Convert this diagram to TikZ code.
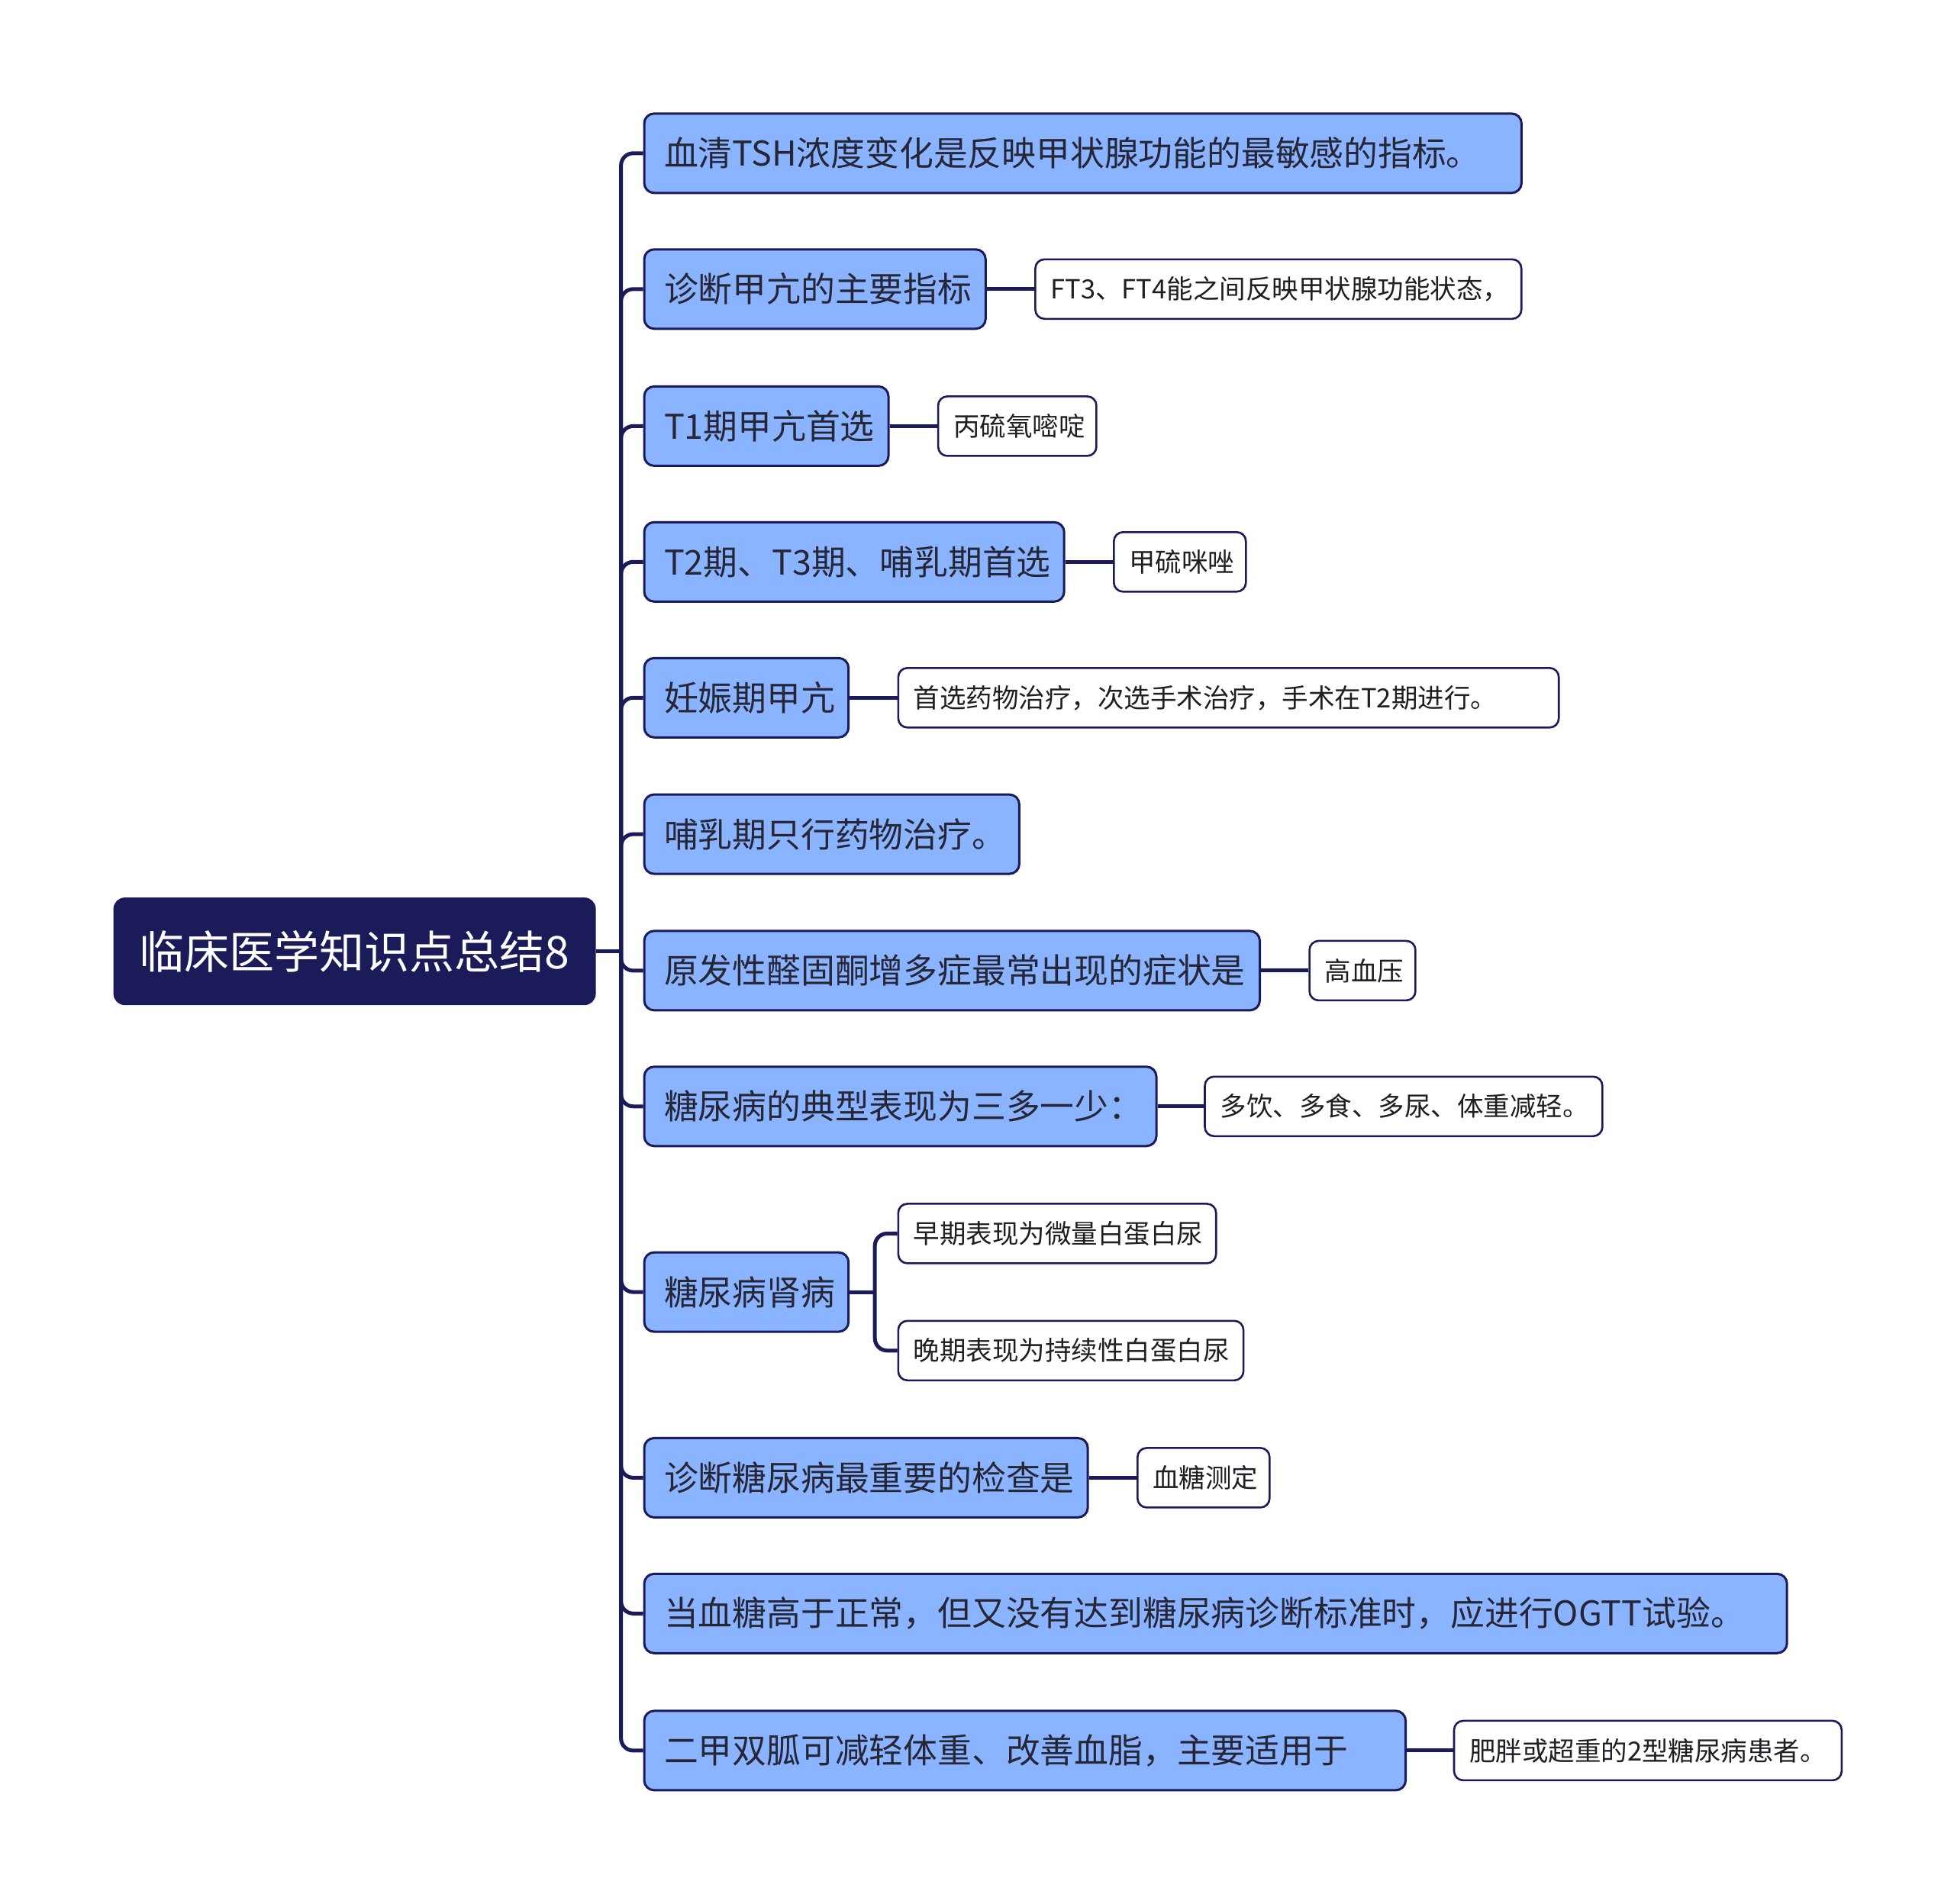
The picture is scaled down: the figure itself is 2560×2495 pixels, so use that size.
\documentclass[tikz,border=0pt]{standalone}
\usepackage{fontspec}
\setmainfont{Noto Sans CJK SC}
\definecolor{navy}{HTML}{1C1B5A}
\definecolor{lblue}{HTML}{8AB4FF}
\definecolor{txtone}{HTML}{262636}
\definecolor{txttwo}{HTML}{1E1E24}
\newcommand\lbx[2]{\makebox[#1pt][l]{#2}}
\begin{document}
\begin{tikzpicture}[x=1pt,y=-1pt,
  rootbox/.style={rounded corners=14, fill=navy, draw=navy, line width=2, text=white,
    font=\fontsize{59}{70}\selectfont, minimum height=139, inner sep=0, anchor=west},
  lonebox/.style={rounded corners=13, fill=lblue, draw=navy, line width=3, text=txtone,
    font=\fontsize{44.8}{53}\selectfont, minimum height=104, inner ysep=0, inner xsep=26, anchor=west},
  ltwobox/.style={rounded corners=12, fill=white, draw=navy, line width=2.6, text=txttwo,
    font=\fontsize{34.5}{41}\selectfont, minimum height=78, inner ysep=0, inner xsep=20, anchor=west},
  link/.style={draw=navy, line width=5, rounded corners=16}]
\useasboundingbox[fill=white] (0,0) rectangle (2560,2495);

\node[rootbox, minimum width=630] (root) at (148.6,1246.6) {临床医学知识点总结8};

\node[lonebox] (n1) at (842.5,200.8) {\lbx{1097.4}{血清TSH浓度变化是反映甲状腺功能的最敏感的指标。}};
\node[lonebox] (n2) at (842.5,378.8) {\lbx{395.3}{诊断甲亢的主要指标}};
\node[lonebox] (n3) at (842.5,558.4) {\lbx{268}{T1期甲亢首选}};
\node[lonebox] (n4) at (842.5,736.3) {\lbx{498.2}{T2期、T3期、哺乳期首选}};
\node[lonebox] (n5) at (842.5,914.3) {\lbx{215.7}{妊娠期甲亢}};
\node[lonebox] (n6) at (842.5,1093.1) {\lbx{439.4}{哺乳期只行药物治疗。}};
\node[lonebox] (n7) at (842.5,1271.9) {\lbx{754.5}{原发性醛固酮增多症最常出现的症状是}};
\node[lonebox] (n8) at (842.5,1449.8) {\lbx{619}{糖尿病的典型表现为三多一少：}};
\node[lonebox] (n9) at (842.5,1693.1) {\lbx{215.7}{糖尿病肾病}};
\node[lonebox] (n10) at (842.5,1936.4) {\lbx{529.2}{诊断糖尿病最重要的检查是}};
\node[lonebox] (n11) at (842.5,2114.3) {\lbx{1445.2}{当血糖高于正常，但又没有达到糖尿病诊断标准时，应进行OGTT试验。}};
\node[lonebox] (n12) at (842.5,2293.9) {\lbx{945.6}{二甲双胍可减轻体重、改善血脂，主要适用于}};

\node[ltwobox] (c2) at (1355.1,378.8) {\lbx{596.8}{FT3、FT4能之间反映甲状腺功能状态，}};
\node[ltwobox] (c3) at (1227.8,558.4) {\lbx{167.3}{丙硫氧嘧啶}};
\node[ltwobox] (c4) at (1458,736.3) {\lbx{133}{甲硫咪唑}};
\node[ltwobox] (c5) at (1175.5,914.3) {\lbx{825.4}{首选药物治疗，次选手术治疗，手术在T2期进行。}};
\node[ltwobox] (c7) at (1714.3,1271.9) {\lbx{98.8}{高血压}};
\node[ltwobox] (c8) at (1577.2,1449.8) {\lbx{480.8}{多饮、多食、多尿、体重减轻。}};
\node[ltwobox] (c9a) at (1175.5,1616.4) {\lbx{376.4}{早期表现为微量白蛋白尿}};
\node[ltwobox] (c9b) at (1175.5,1769.8) {\lbx{412.3}{晚期表现为持续性白蛋白尿}};
\node[ltwobox] (c10) at (1489,1936.4) {\lbx{133}{血糖测定}};
\node[ltwobox] (c12) at (1903.7,2293.9) {\lbx{467.8}{肥胖或超重的2型糖尿病患者。}};

\coordinate (tr) at ([xshift=33]root.east);
\draw[link] (root.east) -- (tr);
\foreach \n in {n1,n2,n3,n4,n5,n6,n7,n8,n9,n10,n11,n12}
  \draw[link] (tr) |- (\n.west);

\draw[link] (n2.east) -- (c2.west);
\draw[link] (n3.east) -- (c3.west);
\draw[link] (n4.east) -- (c4.west);
\draw[link] (n5.east) -- (c5.west);
\draw[link] (n7.east) -- (c7.west);
\draw[link] (n8.east) -- (c8.west);
\draw[link] (n10.east) -- (c10.west);
\draw[link] (n12.east) -- (c12.west);

\coordinate (f9) at ([xshift=33]n9.east);
\draw[link] (n9.east) -- (f9);
\draw[link] (f9) |- (c9a.west);
\draw[link] (f9) |- (c9b.west);
\end{tikzpicture}
\end{document}
